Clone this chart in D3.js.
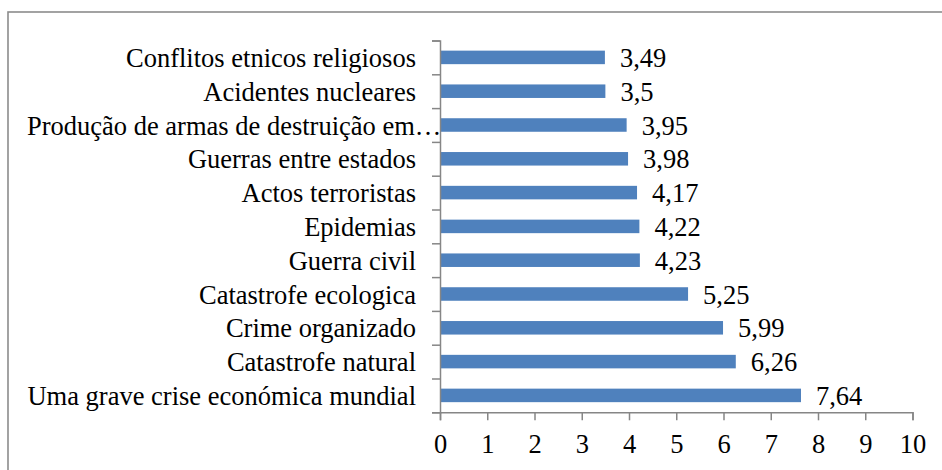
<!DOCTYPE html>
<html>
<head>
<meta charset="utf-8">
<script src="https://cdn.jsdelivr.net/npm/d3@7"></script>
<style>
    body { margin: 0; background: #fff; }
    svg { display: block; }
</style>
</head>
<body>
<svg id="chart"></svg>
<script>
// categories top to bottom, as they appear on the chart
const categories = [
    'Conflitos etnicos religiosos',
    'Acidentes nucleares',
    'Produção de armas de destruição em…',
    'Guerras entre estados',
    'Actos terroristas',
    'Epidemias',
    'Guerra civil',
    'Catastrofe ecologica',
    'Crime organizado',
    'Catastrofe natural',
    'Uma grave crise económica mundial'
];
const values = [3.49, 3.5, 3.95, 3.98, 4.17, 4.22, 4.23, 5.25, 5.99, 6.26, 7.64];
const xTicks = [0, 1, 2, 3, 4, 5, 6, 7, 8, 9, 10];

const width = 942, height = 470;
const plot = {left: 440, right: 912.5, top: 40.5, bottom: 412.3};
const fontFamily = '"Liberation Serif", "Times New Roman", Times, serif';
const fontSize = 26.5;
const barColor = '#4f81bd';
const axisColor = '#868686';

const data = categories.map((c, i) => ({name: c, value: values[i]}));

const svg = d3.select('#chart')
    .attr('width', width)
    .attr('height', height)
    .attr('font-family', fontFamily);

// outer frame (only top and left edges fall inside the picture)
svg.append('rect')
    .attr('x', 8)
    .attr('y', 12)
    .attr('width', 1000)
    .attr('height', 1000)
    .attr('fill', 'none')
    .attr('stroke', '#8c8c8c')
    .attr('stroke-width', 1.6);

const xScale = d3.scaleLinear()
    .domain([0, 10])
    .range([plot.left, plot.right]);

const yScale = d3.scaleBand()
    .domain(categories)
    .range([plot.top, plot.bottom])
    .paddingInner(0.6)
    .paddingOuter(0.3);

// band boundaries for the category tick marks
const yEdges = d3.scaleLinear()
    .domain([0, categories.length])
    .range([plot.bottom, plot.top]);

// bars
svg.append('g')
    .attr('fill', barColor)
    .selectAll('rect')
    .data(data)
    .join('rect')
        .attr('x', xScale(0))
        .attr('y', d => yScale(d.name))
        .attr('width', d => xScale(d.value) - xScale(0))
        .attr('height', yScale.bandwidth());

// value labels
svg.append('g')
    .selectAll('text')
    .data(data)
    .join('text')
        .attr('x', d => xScale(d.value) + 15)
        .attr('y', d => yScale(d.name) + yScale.bandwidth() / 2)
        .attr('dy', '0.36em')
        .attr('font-family', fontFamily)
        .attr('font-size', fontSize)
        .attr('fill', '#000')
        .text(d => String(d.value).replace('.', ','));

// x axis
const xAxis = d3.axisBottom(xScale)
    .tickValues(xTicks)
    .tickSize(8)
    .tickPadding(14)
    .tickFormat(d3.format('d'));

const xAxisG = svg.append('g')
    .attr('transform', `translate(0,${plot.bottom})`)
    .call(xAxis)
    .attr('font-family', fontFamily)
    .attr('font-size', fontSize);

// y axis (tick marks between categories)
const yAxis = d3.axisLeft(yEdges)
    .tickValues(d3.range(categories.length + 1))
    .tickSize(8)
    .tickFormat('');

const yAxisG = svg.append('g')
    .attr('transform', `translate(${plot.left},0)`)
    .call(yAxis);

[xAxisG, yAxisG].forEach(g => {
    g.selectAll('path, line')
        .attr('stroke', axisColor)
        .attr('stroke-width', 1.5);
});
xAxisG.selectAll('text').attr('fill', '#000');

// category labels, right aligned; too long ones start at the left margin
const labelRight = 416, labelLeft = 27;
svg.append('g')
    .selectAll('text')
    .data(data)
    .join('text')
        .attr('y', d => yScale(d.name) + yScale.bandwidth() / 2)
        .attr('dy', '0.36em')
        .attr('font-family', fontFamily)
        .attr('font-size', fontSize)
        .attr('fill', '#000')
        .text(d => d.name)
        .each(function() {
            const t = d3.select(this);
            const w = this.getComputedTextLength();
            if (w > labelRight - labelLeft + 5) {
                t.attr('x', labelLeft).attr('text-anchor', 'start');
            } else {
                t.attr('x', labelRight).attr('text-anchor', 'end');
            }
        });
</script>
</body>
</html>
